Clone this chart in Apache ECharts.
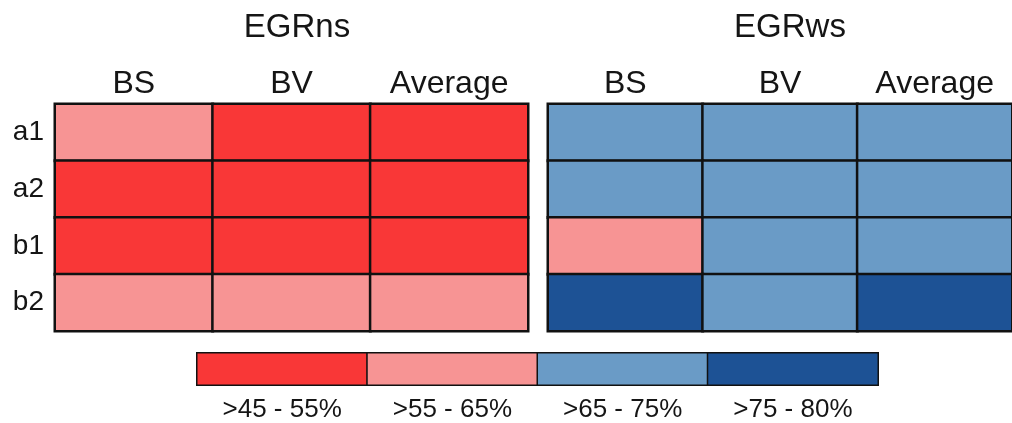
<!DOCTYPE html>
<html>
<head>
<meta charset="utf-8">
<style>
  html, body { margin: 0; padding: 0; background: #ffffff; }
  #chart { width: 1012px; height: 423px; }
</style>
<script src="https://cdn.jsdelivr.net/npm/echarts@6/dist/echarts.min.js"></script>
</head>
<body>
<div id="chart"></div>
<script>
// Column and row categories shared by both panels
const columns = ['BS', 'BV', 'Average'];
const rows = ['a1', 'a2', 'b1', 'b2'];

// Class bins (index into classLabels / classColors)
const classLabels = ['>45 - 55%', '>55 - 65%', '>65 - 75%', '>75 - 80%'];
const classColors = ['#F93737', '#F79494', '#6A9BC6', '#1D5295'];

// Panel titles
const panelTitles = ['EGRns', 'EGRws'];

// Class per row (a1..b2), per column (BS, BV, Average)
const egrNs = [
  [1, 0, 0],
  [0, 0, 0],
  [0, 0, 0],
  [1, 1, 1]
];
const egrWs = [
  [2, 2, 2],
  [2, 2, 2],
  [1, 2, 2],
  [3, 2, 3]
];

function toCells(matrix) {
  const out = [];
  matrix.forEach((row, r) => row.forEach((v, c) => out.push([c, r, v])));
  return out;
}

const font = 'Liberation Sans, Arial, sans-serif';
const textColor = '#151515';

const chart = echarts.init(document.getElementById('chart'), null, { renderer: 'canvas' });

const panelGrids = [
  { left: 55, top: 104, width: 473, height: 227 },
  { left: 548, top: 104, width: 474, height: 227 }
];

const xAxes = [], yAxes = [], series = [];
panelGrids.forEach((g, i) => {
  xAxes.push({
    type: 'category', gridIndex: i, data: columns, position: 'top',
    axisLine: { show: false }, axisTick: { show: false }, splitLine: { show: false },
    axisLabel: { fontFamily: font, fontSize: 32, color: textColor, margin: 4 }
  });
  yAxes.push({
    type: 'category', gridIndex: i, data: rows, inverse: true,
    axisLine: { show: false }, axisTick: { show: false }, splitLine: { show: false },
    axisLabel: { show: i === 0, fontFamily: font, fontSize: 28, color: textColor, margin: 11 }
  });
  series.push({
    type: 'heatmap', xAxisIndex: i, yAxisIndex: i,
    data: toCells(i === 0 ? egrNs : egrWs),
    itemStyle: { borderColor: '#111111', borderWidth: 2.5 },
    emphasis: { disabled: true }
  });
});

// Legend strip drawn as a one-row heatmap
const legendGrid = { left: 197, top: 353, width: 681, height: 33 };
xAxes.push({
  type: 'category', gridIndex: 2, data: classLabels, position: 'bottom',
  axisLine: { show: false }, axisTick: { show: false }, splitLine: { show: false },
  axisLabel: { fontFamily: font, fontSize: 26, color: textColor, margin: 12 }
});
yAxes.push({
  type: 'category', gridIndex: 2, data: [''],
  axisLine: { show: false }, axisTick: { show: false }, axisLabel: { show: false }, splitLine: { show: false }
});
series.push({
  type: 'heatmap', xAxisIndex: 2, yAxisIndex: 2,
  data: classLabels.map((_, k) => [k, 0, k]),
  itemStyle: { borderColor: '#111111', borderWidth: 1.5 },
  emphasis: { disabled: true }
});

chart.setOption({
  animation: false,
  backgroundColor: '#ffffff',
  grid: [...panelGrids, legendGrid],
  xAxis: xAxes,
  yAxis: yAxes,
  visualMap: {
    type: 'piecewise', show: false, dimension: 2,
    pieces: classColors.map((c, k) => ({ value: k, color: c }))
  },
  graphic: panelTitles.map((t, i) => ({
    type: 'text',
    x: panelGrids[i].left + 242,
    y: 28,
    style: {
      text: t, fontFamily: font, fontSize: 33, fill: textColor,
      textAlign: 'center', textVerticalAlign: 'middle'
    }
  })),
  series: series
});
</script>
</body>
</html>
